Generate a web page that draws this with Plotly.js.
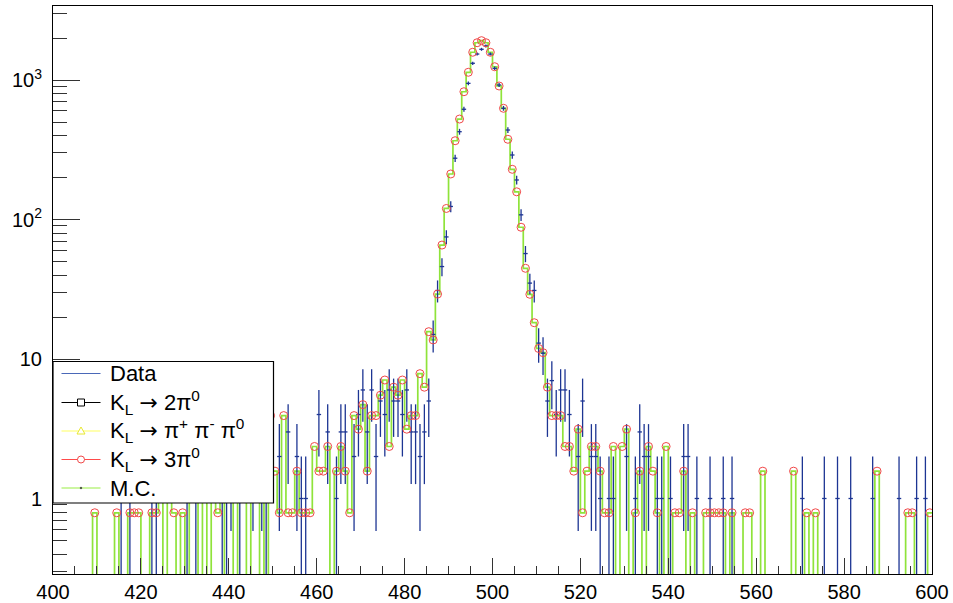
<!DOCTYPE html>
<html>
<head>
<meta charset="utf-8">
<script src="https://cdn.plot.ly/plotly-3.0.1.min.js"></script>
<style>html,body{margin:0;padding:0;background:#fff;}#chart{width:953px;height:603px;}</style>
</head>
<body>
<div id="chart"></div>
<script>
// Histogram definition: 200 bins of width 1 from 400 to 600
const binStart = 400;
const binWidth = 1;
const nBins = 200;

// M.C. (K_L -> 3pi0 dominated) bin contents, bins 400..599
const mcValues = [
  0,0,0,0,0,0,0,0,0,0.79,
  0,0,0,0,0.79,0,0,0.79,0.79,0.79,
  0,0,0.79,0.79,2.36,0,1.57,0.79,0,0.79,
  0,2.36,1.57,0,1.57,0,2.36,0.79,1.57,0,
  0,1.57,0,0,1.57,0,0,2.36,0,3.93,
  1.57,0.79,3.93,0.79,0.79,1.57,0.79,0.79,0.79,2.36,
  1.57,1.57,2.36,0,1.57,2.36,1.57,0.79,3.93,3.14,
  4.71,1.57,3.93,3.93,5.50,7.07,2.36,6.28,5.50,7.07,
  3.14,3.93,3.93,7.85,6.28,15.7,13.7,29.2,65.6,120,
  212,367,525,824,1136,1581,1850,1914,1850,1581,
  1245,906,627,376,229,158,88,44.7,29.1,18.2,
  11.9,11.1,6.28,3.93,3.93,3.93,2.36,2.36,1.57,3.14,
  0.79,1.57,2.36,2.36,1.57,0.79,0.79,2.36,0,2.36,
  3.14,0,0.79,1.57,0,2.36,1.57,0.79,0,2.36,
  0,0.79,0.79,1.57,0,0.79,0,0,0.79,0.79,
  0.79,0.79,0.79,0,0.79,0,0,0.79,0.79,0,
  0,1.57,0,0,0,0,0,0,1.57,0,
  0,0.79,0,0.79,0,0,0,0,0,0,
  0,0,0,0,0,0,0,1.57,0,0,
  0,0,0,0,0.79,0.79,0,0,0,0.79
];

// Data counts, bins 400..599
const dataCounts = [
  0,0,0,0,0,0,0,0,0,0,
  0,0,0,0,0,1,0,1,0,0,
  0,0,1,1,0,0,3,0,0,0,
  1,0,1,0,3,0,4,0,1,1,
  2,0,1,0,3,2,0,2,1,4,
  0,2,0,3,0,2,1,1,0,0,
  4,0,3,0,1,3,3,0,2,4,
  6,3,6,2,5,4,6,5,5,4,
  6,3,3,2,3,5,15,31,46,75,
  124,275,426,617,946,1318,1535,1660,1754,1535,
  1213,921,627,438,290,192,108,57,35,31,
  13,11,5,7,4,6,6,4,0,2,
  5,0,2,2,1,0,1,1,0,0,
  2,0,1,3,2,2,0,1,1,0,
  1,0,0,2,2,0,1,0,0,1,
  0,0,1,0,1,0,0,0,0,0,
  0,0,0,0,0,0,0,0,0,0,
  1,0,0,0,0,1,0,0,1,0,
  0,1,0,0,0,0,1,0,0,0,
  0,0,1,0,0,0,1,0,1,0
];

const xTickVals = [400,420,440,460,480,500,520,540,560,580,600];
const yTickVals = [1,10,100,1000];
const yTickText = ['1','10','10<sup>2</sup>','10<sup>3</sup>'];
const ARROW = '<span style="font-family:DejaVu Sans">\u2192</span>';
const legendLabels = ['Data','K<sub>L</sub> '+ARROW+' 2\u03c0<sup>0</sup>','K<sub>L</sub> '+ARROW+' \u03c0<sup>+</sup> \u03c0<sup>-</sup> \u03c0<sup>0</sup>','K<sub>L</sub> '+ARROW+' 3\u03c0<sup>0</sup>','M.C.'];

// ---- build traces ----
const centers = [], edges = [];
for (let i = 0; i <= nBins; i++) edges.push(binStart + i*binWidth);
for (let i = 0; i < nBins; i++) centers.push(binStart + (i+0.5)*binWidth);

const FLOOR = 1e-3; // empty bins drop to the bottom of the log frame
const mcStepY = mcValues.map(v => v > 0 ? v : FLOOR);
mcStepY.push(mcStepY[mcStepY.length-1]);

const mcLine = {
  x: edges, y: mcStepY, type:'scatter', mode:'lines',
  line:{shape:'hv', color:'#8fe33a', width:1.7}, hoverinfo:'skip'
};
const dataTrace = {
  x: centers, y: dataCounts.map(v => v > 0 ? v : null),
  type:'scatter', mode:'markers',
  marker:{size:1, color:'rgba(0,0,0,0)'},
  error_y:{type:'data', array: dataCounts.map(v => Math.sqrt(v)), width:0, thickness:1.3, color:'#1d3593'},
  error_x:{type:'constant', value:binWidth/2, width:0, thickness:1.3, color:'#1d3593'}
};
const circles = {
  x: centers, y: mcValues.map(v => v > 0 ? v : null),
  type:'scatter', mode:'markers',
  marker:{symbol:'circle-open', size:8, color:'#f04848', line:{width:1, color:'#f04848'}}
};

// ---- manual legend (pixel -> paper) ----
const L = 53, R = 932, T = 6, B = 574;
const px = X => (X - L)/(R - L);
const py = Y => (B - Y)/(B - T);
const rows = [373.5, 402.5, 431, 459.5, 488];
const lineCols = ['#4a68b8','#000000','#ffff60','#ff4a4a','#99ee44'];
const shapes = [
  {type:'rect', xref:'paper', yref:'paper', x0:px(53), x1:px(273.5), y0:py(503), y1:py(361.5),
   line:{color:'black', width:1.2}, fillcolor:'white', layer:'above'}
];
const annotations = [];
rows.forEach((Y, k) => {
  shapes.push({type:'line', xref:'paper', yref:'paper', x0:px(61.5), x1:px(100.5), y0:py(Y), y1:py(Y),
    line:{color:lineCols[k], width:1.2}, layer:'above'});
  annotations.push({xref:'paper', yref:'paper', x:px(108), y:py(Y), xanchor:'left', yanchor:'middle',
    text:legendLabels[k], showarrow:false, font:{family:'Liberation Sans, Arial, sans-serif', size:22, color:'black'}});
});
const cx = 81;
// square marker (2pi0)
shapes.push({type:'rect', xref:'paper', yref:'paper', x0:px(cx-3.5), x1:px(cx+3.5), y0:py(rows[1]+3.5), y1:py(rows[1]-3.5),
  line:{color:'black', width:1}, fillcolor:'white', layer:'above'});
// triangle marker (pi+pi-pi0)
shapes.push({type:'path', xref:'paper', yref:'paper',
  path:`M ${px(cx-4)} ${py(rows[2]+3)} L ${px(cx+4)} ${py(rows[2]+3)} L ${px(cx)} ${py(rows[2]-4)} Z`,
  line:{color:'#e8e830', width:1}, fillcolor:'white', layer:'above'});
// circle marker (3pi0)
shapes.push({type:'circle', xref:'paper', yref:'paper', x0:px(cx-3.5), x1:px(cx+3.5), y0:py(rows[3]+3.5), y1:py(rows[3]-3.5),
  line:{color:'#f04848', width:1}, fillcolor:'white', layer:'above'});
// dot marker (M.C.)
shapes.push({type:'rect', xref:'paper', yref:'paper', x0:px(cx-0.7), x1:px(cx+0.7), y0:py(rows[4]+0.7), y1:py(rows[4]-0.7),
  line:{color:'#333', width:0.5}, fillcolor:'#333', layer:'above'});

const yMinor = [];
[0.1,1,10,100,1000].forEach(d => { for (let m = 2; m <= 9; m++) yMinor.push(m*d); });
const xMinor = [];
for (let v = 400; v <= 600; v += 5) if (v % 20 !== 0) xMinor.push(v);

const fontFam = 'Liberation Sans, Arial, sans-serif';
const layout = {
  width:953, height:603,
  margin:{l:L, r:953-R, t:T, b:603-B, pad:0},
  paper_bgcolor:'white', plot_bgcolor:'white', showlegend:false,
  font:{family:fontFam, size:20, color:'black'},
  xaxis:{
    range:[400,600], tickmode:'array', tickvals:xTickVals, ticks:'inside', ticklen:16, tickwidth:1, tickcolor:'#333',
    showgrid:false, zeroline:false, showline:true, linecolor:'black', linewidth:1, mirror:true,
    minor:{tickmode:'array', tickvals:xMinor, ticks:'inside', ticklen:8, tickwidth:1, tickcolor:'#333', showgrid:false},
    tickfont:{family:fontFam, size:20, color:'black'}, ticklabelstandoff:0
  },
  yaxis:{
    type:'log', range:[-0.5412, 3.5305], tickmode:'array', tickvals:yTickVals, ticktext:yTickText,
    ticks:'inside', ticklen:27, tickwidth:1, tickcolor:'#333',
    showgrid:false, zeroline:false, showline:true, linecolor:'black', linewidth:1, mirror:true,
    minor:{tickmode:'array', tickvals:yMinor, ticks:'inside', ticklen:14, tickwidth:1, tickcolor:'#333', showgrid:false},
    tickfont:{family:fontFam, size:20, color:'black'}, ticklabelstandoff:6
  },
  shapes: shapes,
  annotations: annotations
};

Plotly.newPlot('chart', [mcLine, dataTrace, circles], layout, {staticPlot:true, displayModeBar:false});
</script>
</body>
</html>
